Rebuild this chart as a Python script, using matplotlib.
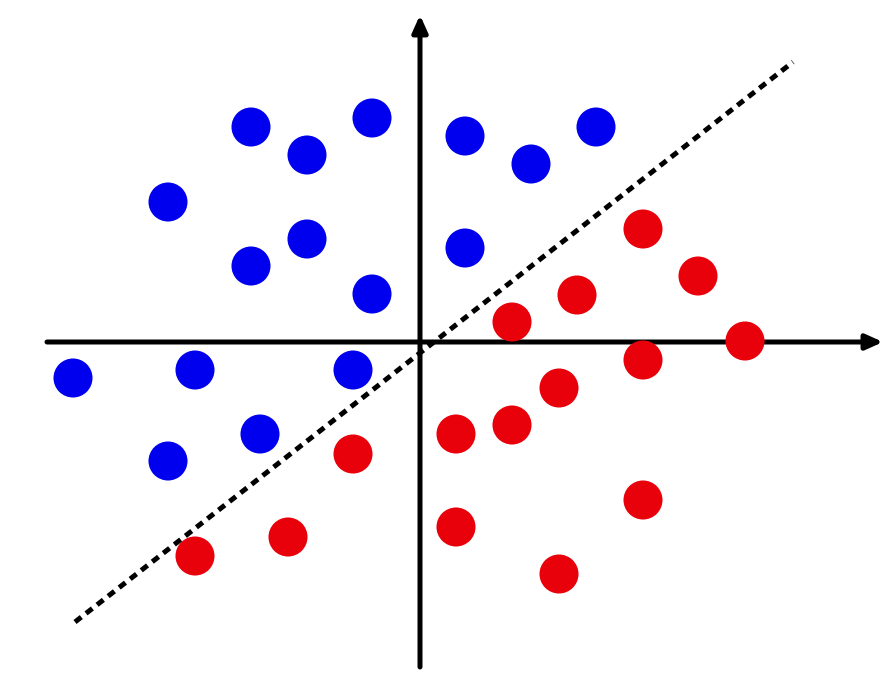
import matplotlib

matplotlib.use("Agg")
import matplotlib.pyplot as plt
import numpy as np

# point positions, origin at the axis crossing (units ~ pixels)
blue_x = [-169, -48, -113, 45, 111, 176, -252, -113, -169, 45, -48,
          -347, -225, -67, -160, -252]
blue_y = [215, 224, 187, 206, 178, 215, 140, 103, 76, 94, 48,
          -36, -28, -28, -92, -119]
red_x = [223, 278, 157, 92, 325, 223, 139, 92, 36, -67, 223, 36,
         -132, -225, 139]
red_y = [113, 66, 47, 20, 1, -18, -46, -83, -92, -112, -158, -185,
         -195, -214, -232]

# decision boundary end points
boundary_x = [-345, 373]
boundary_y = [-280, 280]

W, H = 886, 673
fig = plt.figure(figsize=(W / 100, H / 100), dpi=100)
ax = fig.add_axes([0, 0, 1, 1])
ax.set_xlim(-420, W - 420)
ax.set_ylim(342 - H, 342)
ax.axis("off")

arrow = dict(arrowstyle="-|>,head_length=1.0,head_width=0.45",
             lw=3.6, color="black", shrinkA=0, shrinkB=0)
ax.annotate("", xy=(463, 0), xytext=(-373, 0), arrowprops=arrow, zorder=1)
ax.annotate("", xy=(0, 327), xytext=(0, -325), arrowprops=arrow, zorder=1)

ax.plot(boundary_x, boundary_y, color="black", lw=3.6,
        linestyle=(0, (1.6, 1.2)), dash_capstyle="butt", zorder=2)

ax.scatter(blue_x, blue_y, s=790, color="#0000ee", edgecolors="none",
           zorder=3)
ax.scatter(red_x, red_y, s=790, color="#e8000a", edgecolors="none",
           zorder=3)

fig.savefig("out.png", dpi=100)
